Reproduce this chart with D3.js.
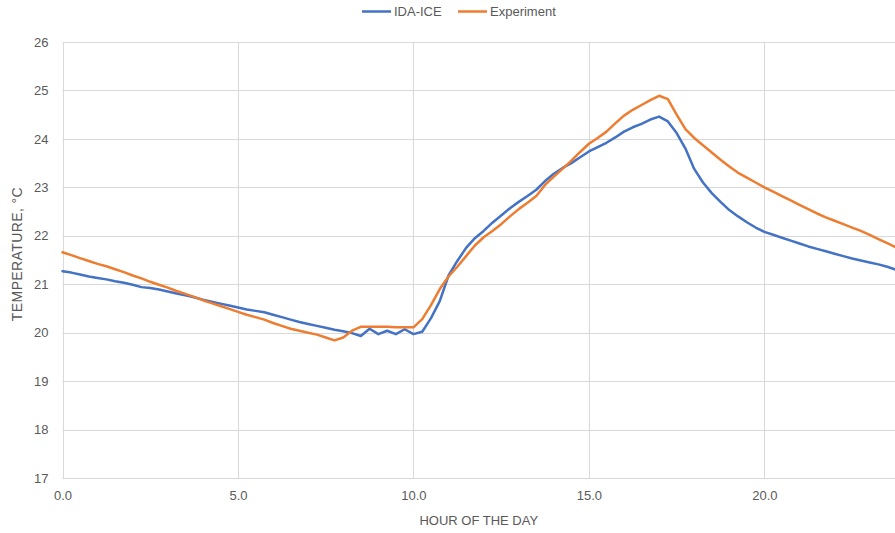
<!DOCTYPE html>
<html>
<head>
<meta charset="utf-8">
<script src="https://cdn.jsdelivr.net/npm/d3@7"></script>
<style>
  html, body { margin: 0; padding: 0; background: #ffffff; }
  svg { display: block; }
  text { font-family: "Liberation Sans", Arial, sans-serif; fill: #595959; }
</style>
</head>
<body>
<svg id="chart" width="895" height="533"></svg>
<script>
// Hour of the day, quarter-hour samples
const hours = [
  0.00, 0.25, 0.50, 0.75, 1.00, 1.25, 1.50, 1.75, 2.00, 2.25, 2.50, 2.75,
  3.00, 3.25, 3.50, 3.75, 4.00, 4.25, 4.50, 4.75, 5.00, 5.25, 5.50, 5.75,
  6.00, 6.25, 6.50, 6.75, 7.00, 7.25, 7.50, 7.75, 8.00, 8.25, 8.50, 8.75,
  9.00, 9.25, 9.50, 9.75, 10.00, 10.25, 10.50, 10.75, 11.00, 11.25, 11.50, 11.75,
  12.00, 12.25, 12.50, 12.75, 13.00, 13.25, 13.50, 13.75, 14.00, 14.25, 14.50, 14.75,
  15.00, 15.25, 15.50, 15.75, 16.00, 16.25, 16.50, 16.75, 17.00, 17.25, 17.50, 17.75,
  18.00, 18.25, 18.50, 18.75, 19.00, 19.25, 19.50, 19.75, 20.00, 20.25, 20.50, 20.75,
  21.00, 21.25, 21.50, 21.75, 22.00, 22.25, 22.50, 22.75, 23.00, 23.25, 23.50, 23.75
];

// Simulated room temperature (IDA-ICE), °C
const idaIce = [
  21.27, 21.24, 21.20, 21.16, 21.13, 21.10, 21.06, 21.03, 20.99, 20.94, 20.92, 20.89,
  20.85, 20.81, 20.77, 20.73, 20.68, 20.64, 20.60, 20.56, 20.52, 20.48, 20.45, 20.42,
  20.37, 20.32, 20.27, 20.22, 20.18, 20.14, 20.10, 20.06, 20.03, 19.99, 19.93, 20.08,
  19.97, 20.04, 19.97, 20.07, 19.97, 20.02, 20.30, 20.65, 21.18, 21.48, 21.75, 21.95,
  22.10, 22.27, 22.42, 22.57, 22.70, 22.82, 22.95, 23.13, 23.28, 23.40, 23.50, 23.62,
  23.74, 23.83, 23.92, 24.03, 24.15, 24.24, 24.31, 24.40, 24.46, 24.36, 24.12, 23.80,
  23.38, 23.10, 22.88, 22.70, 22.53, 22.40, 22.28, 22.17, 22.08, 22.02, 21.96, 21.90,
  21.84, 21.78, 21.73, 21.68, 21.63, 21.58, 21.53, 21.49, 21.45, 21.41, 21.36, 21.30
];

// Measured room temperature, °C
const experiment = [
  21.66, 21.60, 21.54, 21.48, 21.42, 21.37, 21.31, 21.25, 21.18, 21.12, 21.05, 20.99,
  20.93, 20.86, 20.80, 20.74, 20.67, 20.61, 20.55, 20.49, 20.43, 20.37, 20.32, 20.27,
  20.20, 20.14, 20.08, 20.04, 20.00, 19.96, 19.90, 19.84, 19.90, 20.04, 20.12, 20.12,
  20.12, 20.12, 20.11, 20.11, 20.11, 20.28, 20.57, 20.90, 21.16, 21.36, 21.58, 21.80,
  21.97, 22.10, 22.24, 22.40, 22.55, 22.68, 22.82, 23.05, 23.22, 23.38, 23.55, 23.73,
  23.90, 24.02, 24.15, 24.32, 24.48, 24.60, 24.70, 24.80, 24.89, 24.82, 24.50, 24.20,
  24.02, 23.87, 23.72, 23.57, 23.43, 23.30, 23.20, 23.10, 23.00, 22.91, 22.82, 22.73,
  22.64, 22.55, 22.46, 22.38, 22.31, 22.24, 22.17, 22.10, 22.02, 21.93, 21.85, 21.76
];

const seriesNames = ["IDA-ICE", "Experiment"];
const seriesColors = ["#4472C4", "#ED7D31"];
const xTicks = [0, 5, 10, 15, 20];
const yTicks = [17, 18, 19, 20, 21, 22, 23, 24, 25, 26];
const xTitle = "HOUR OF THE DAY";
const yTitle = "TEMPERATURE, °C";

const svg = d3.select("#chart");
const plot = { left: 62.5, right: 896, top: 42, bottom: 478 };

const x = d3.scaleLinear().domain([0, 23.75]).range([plot.left, plot.right]);
const y = d3.scaleLinear().domain([17, 26]).range([plot.bottom, plot.top]);

// Gridlines
const grid = svg.append("g");
grid.selectAll("line.h").data(yTicks).join("line")
  .attr("x1", plot.left).attr("x2", plot.right)
  .attr("y1", d => Math.round(y(d)) + 0.5).attr("y2", d => Math.round(y(d)) + 0.5)
  .attr("stroke", "#d9d9d9").attr("stroke-width", 1);
grid.selectAll("line.v").data(xTicks).join("line")
  .attr("y1", plot.top).attr("y2", plot.bottom)
  .attr("x1", d => Math.round(x(d)) + 0.5).attr("x2", d => Math.round(x(d)) + 0.5)
  .attr("stroke", "#d9d9d9").attr("stroke-width", 1);

// Axes (labels only, gridlines drawn above)
const xAxis = d3.axisBottom(x).tickValues(xTicks).tickFormat(d3.format(".1f")).tickSize(0).tickPadding(13);
svg.append("g").attr("transform", `translate(0,${plot.bottom})`).call(xAxis)
  .call(g => g.select(".domain").remove())
  .selectAll("text").attr("font-size", 13).attr("fill", "#595959")
  .style("font-family", "Liberation Sans, Arial, sans-serif");

const yAxis = d3.axisLeft(y).tickValues(yTicks).tickFormat(d3.format("d")).tickSize(0).tickPadding(14);
svg.append("g").attr("transform", `translate(${plot.left},0)`).call(yAxis)
  .call(g => g.select(".domain").remove())
  .selectAll("text").attr("font-size", 13).attr("fill", "#595959")
  .style("font-family", "Liberation Sans, Arial, sans-serif");

// Series lines
svg.append("clipPath").attr("id", "plotClip").append("rect")
  .attr("x", plot.left - 2).attr("y", plot.top - 5)
  .attr("width", plot.right - plot.left + 4).attr("height", plot.bottom - plot.top + 10);

const line = d3.line().x(d => x(d[0])).y(d => y(d[1]));
const seriesData = [idaIce, experiment].map(vals => hours.map((h, i) => [h, vals[i]]));

svg.append("g").attr("clip-path", "url(#plotClip)")
  .selectAll("path").data(seriesData).join("path")
  .attr("d", line)
  .attr("fill", "none")
  .attr("stroke", (d, i) => seriesColors[i])
  .attr("stroke-width", 2.5)
  .attr("stroke-linejoin", "round")
  .attr("stroke-linecap", "round");

// Axis titles
svg.append("text")
  .attr("x", (plot.left + 895) / 2).attr("y", 525)
  .attr("text-anchor", "middle").attr("font-size", 13)
  .text(xTitle);
svg.append("text")
  .attr("transform", `translate(22,254) rotate(-90)`)
  .attr("text-anchor", "middle").attr("font-size", 14)
  .attr("letter-spacing", 0.4)
  .text(yTitle);

// Legend
const legendX = [362, 458];
const legend = svg.append("g");
seriesNames.forEach((name, i) => {
  legend.append("line")
    .attr("x1", legendX[i]).attr("x2", legendX[i] + 29)
    .attr("y1", 11.5).attr("y2", 11.5)
    .attr("stroke", seriesColors[i]).attr("stroke-width", 2.5);
  legend.append("text")
    .attr("x", legendX[i] + 32).attr("y", 16)
    .attr("font-size", 13)
    .text(name);
});
</script>
</body>
</html>
